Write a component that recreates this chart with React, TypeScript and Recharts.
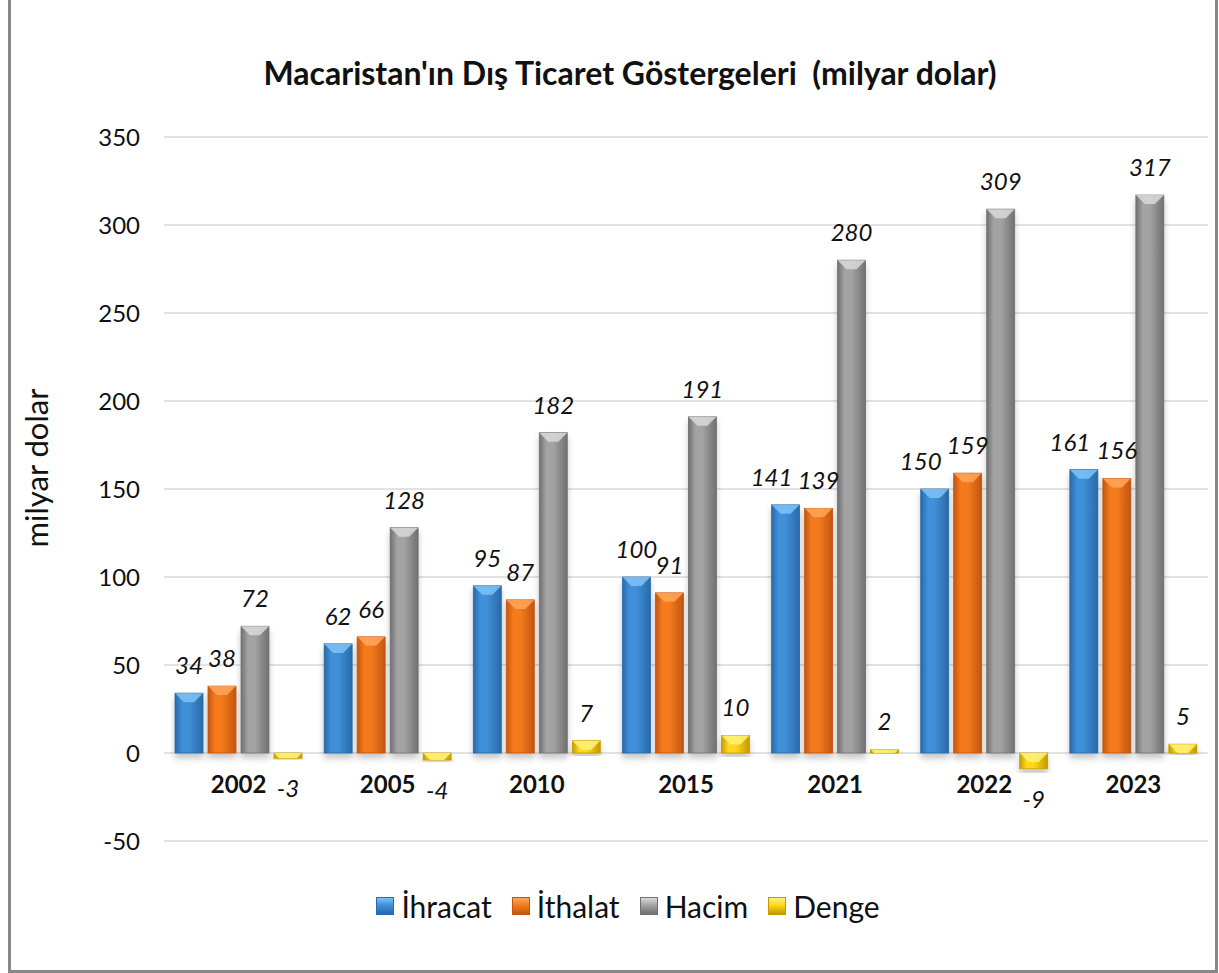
import { BarChart, Bar, XAxis, YAxis, CartesianGrid, Legend, LabelList } from 'recharts'

const years = ['2002', '2005', '2010', '2015', '2021', '2022', '2023']
const ihracat = [34, 62, 95, 100, 141, 150, 161]
const ithalat = [38, 66, 87, 91, 139, 159, 156]
const hacim = [72, 128, 182, 191, 280, 309, 317]
const denge = [-3, -4, 7, 10, 2, -9, 5]
const yTicks = [-50, 0, 50, 100, 150, 200, 250, 300, 350]

const series = [
  { key: 'ihracat', name: 'İhracat', light: '#7cc3f5', mid: '#3f8fd9', dark: '#2a6aa8' },
  { key: 'ithalat', name: 'İthalat', light: '#ffa65a', mid: '#f47a1f', dark: '#c2560f' },
  { key: 'hacim', name: 'Hacim', light: '#d9d9d9', mid: '#a3a3a3', dark: '#707070' },
  { key: 'denge', name: 'Denge', light: '#fff27a', mid: '#ffd81a', dark: '#c49a00' },
]

const chartData = years.map((year, i) => ({
  year,
  ihracat: ihracat[i],
  ithalat: ithalat[i],
  hacim: hacim[i],
  denge: denge[i],
}))

const FONT = 'Lato, "Open Sans", sans-serif'

function BevelBar(props: any) {
  const { x, y, width, height, id } = props
  if (width == null || height == null) return null
  const top = height < 0 ? y + height : y
  const h = Math.abs(height)
  const b = Math.min(9, width / 2, h)
  const s = series.find(s => s.key === id) || series[0]
  return (
    <g filter="url(#barShadow)">
      <rect x={x} y={top} width={width} height={h} fill={`url(#grad-${s.key})`} stroke={s.dark} strokeWidth={0.8} />
      {h > 1 && (
        <polygon
          points={`${x},${top} ${x + width},${top} ${x + width - b},${top + b} ${x + b},${top + b}`}
          fill={s.light}
          opacity={0.85}
        />
      )}
    </g>
  )
}

// export labels get pushed left when the import label next to them is also 3 digits (like excel does)
function ValueLabel(props: any) {
  const { x, y, width, height, value, index, seriesKey } = props
  const top = height < 0 ? y + height : y
  const bottom = top + Math.abs(height)
  const ty = value < 0 ? bottom + 39 : top - 19
  let dx = 0
  if (seriesKey === 'ihracat' && String(value).length > 2 && String(ithalat[index]).length > 2) dx = -14
  return (
    <text x={x + width / 2 + dx} y={ty} textAnchor="middle" fontFamily={FONT} fontStyle="italic" fontSize={24} fill="#111">
      {value}
    </text>
  )
}

function YearTick(props: any) {
  const { x, y, payload } = props
  return (
    <text x={x} y={y - 48} textAnchor="middle" fontFamily={FONT} fontWeight={700} fontSize={24} fill="#111">
      {payload.value}
    </text>
  )
}

function YLabel(props: any) {
  const { viewBox } = props
  const cx = viewBox.x + 15
  const cy = viewBox.y + viewBox.height / 2 - 21
  return (
    <text
      x={cx}
      y={cy}
      transform={`rotate(-90 ${cx} ${cy})`}
      textAnchor="middle"
      dominantBaseline="central"
      fontFamily={FONT}
      fontSize={31}
      fill="#111"
    >
      milyar dolar
    </text>
  )
}

function LegendContent() {
  return (
    <div style={{ display: 'flex', justifyContent: 'center', alignItems: 'center', paddingLeft: 30, fontFamily: FONT, fontSize: 30, color: '#111' }}>
      {series.map(s => (
        <div key={s.key} style={{ display: 'flex', alignItems: 'center', margin: '0 10px' }}>
          <span
            style={{
              display: 'inline-block',
              width: 18,
              height: 18,
              marginRight: 7,
              background: `linear-gradient(to bottom, ${s.light}, ${s.mid} 45%, ${s.dark})`,
              border: `1px solid ${s.dark}`,
              boxSizing: 'border-box',
            }}
          />
          <span>{s.name}</span>
        </div>
      ))}
    </div>
  )
}

export default function App() {
  return (
    <div
      style={{
        position: 'absolute',
        left: 8,
        top: -10,
        width: 1204,
        height: 977,
        border: '3px solid #878787',
        background: '#fff',
      }}
    >
      <div
        style={{
          position: 'absolute',
          left: 0,
          width: 1238,
          top: 60,
          textAlign: 'center',
          fontFamily: FONT,
          fontWeight: 700,
          fontSize: 32,
          color: '#111',
        }}
      >
        Macaristan'ın Dış Ticaret Göstergeleri&nbsp;&nbsp;(milyar dolar)
      </div>
      <BarChart
        width={1204}
        height={977}
        data={chartData}
        margin={{ top: 144, right: 7, left: 10, bottom: 128 }}
        barCategoryGap={11}
        barGap={5}
      >
        <defs>
          {series.map(s => (
            <linearGradient key={s.key} id={`grad-${s.key}`} x1="0" y1="0" x2="1" y2="0">
              <stop offset="0%" stopColor={s.dark} />
              <stop offset="25%" stopColor={s.mid} />
              <stop offset="50%" stopColor={s.mid} />
              <stop offset="100%" stopColor={s.dark} />
            </linearGradient>
          ))}
          <filter id="barShadow" x="-30%" y="-10%" width="160%" height="130%">
            <feDropShadow dx="0" dy="5" stdDeviation="3" floodColor="#000" floodOpacity="0.22" />
          </filter>
        </defs>
        <CartesianGrid vertical={false} stroke="#d9d9d9" strokeWidth={1.5} />
        <XAxis dataKey="year" axisLine={false} tickLine={false} tickSize={0} tickMargin={0} height={1} tick={<YearTick />} interval={0} />
        <YAxis
          width={143}
          domain={[-50, 350]}
          ticks={yTicks}
          axisLine={false}
          tickLine={false}
          tickSize={0}
          tickMargin={24}
          tick={{ fontFamily: FONT, fontSize: 24, fill: '#111' }}
          label={<YLabel />}
        />
        <Legend verticalAlign="middle" align="center" layout="horizontal" wrapperStyle={{ top: 895, left: 0, width: 1204 }} content={<LegendContent />} />
        {series.map(s => (
          <Bar key={s.key} dataKey={s.key} name={s.name} isAnimationActive={false} shape={(p: any) => <BevelBar {...p} id={s.key} />}>
            <LabelList dataKey={s.key} content={(p: any) => <ValueLabel {...p} seriesKey={s.key} />} />
          </Bar>
        ))}
      </BarChart>
    </div>
  )
}
